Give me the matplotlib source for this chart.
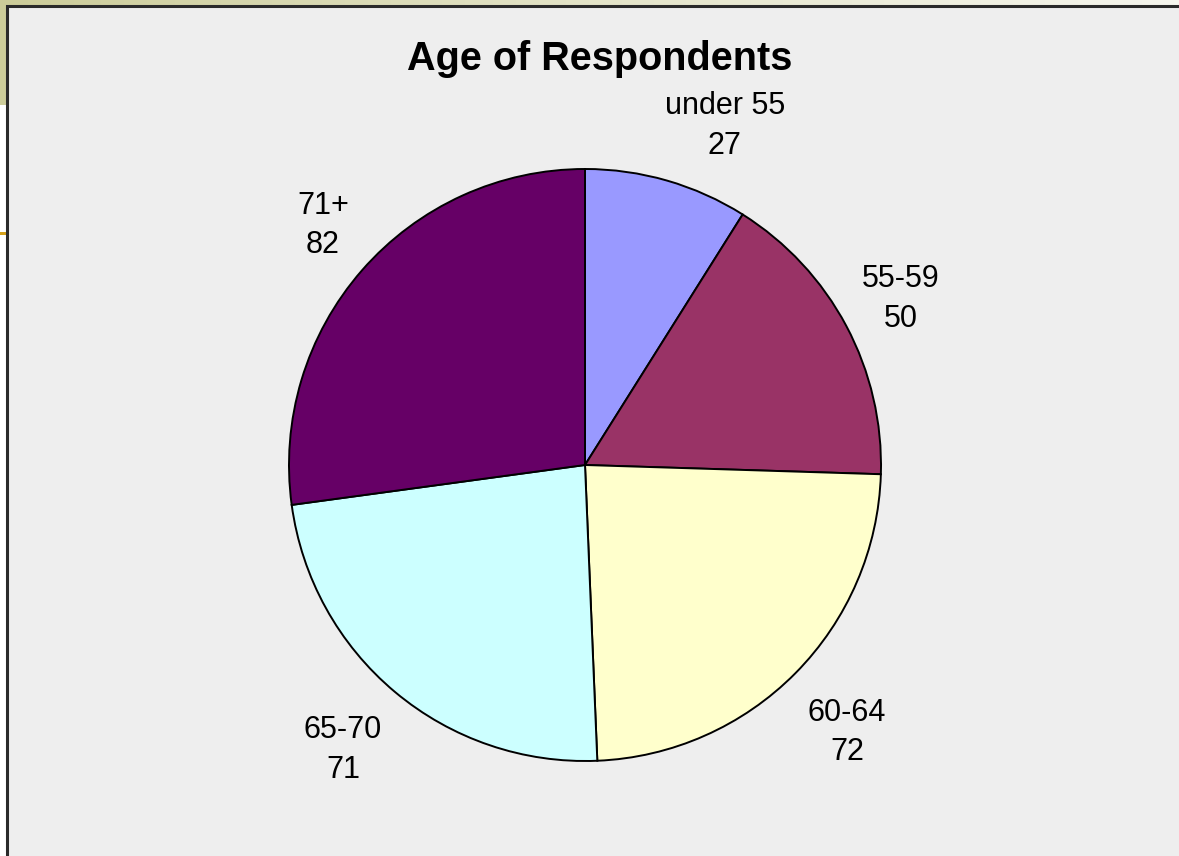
import numpy as np
import matplotlib
matplotlib.use("Agg")
import matplotlib.pyplot as plt
from matplotlib.patches import Rectangle
from matplotlib.colors import LinearSegmentedColormap

title = "Age of Respondents"
categories = ["under 55", "55-59", "60-64", "65-70", "71+"]
values = [27, 50, 72, 71, 82]
colors = ["#9999FF", "#993366", "#FFFFCC", "#CCFFFF", "#660066"]

W, H = 1179, 856
fig = plt.figure(figsize=(W / 100, H / 100), dpi=100, facecolor="white")
ax = fig.add_axes([0, 0, 1, 1])
ax.set_axis_off()

def Y(y):
    return H - y

# slide decorations
grad = np.linspace(0, 1, 256).reshape(1, -1)
cmap = LinearSegmentedColormap.from_list("k", ["#CCCC99", "#E4E4C8", "#F6F6EE"])
ax.imshow(grad, cmap=cmap, extent=[0, W, Y(7), Y(0)], aspect="auto", zorder=0)
ax.add_patch(Rectangle((0, Y(105)), 8, 105, facecolor="#CCCC99", edgecolor="none", zorder=0))
ax.add_patch(Rectangle((0, Y(235)), 8, 3, facecolor="#D4A017", edgecolor="none", zorder=0))
# chart panel
ax.add_patch(Rectangle((7, Y(H + 10)), W, H + 10 - 6, facecolor="#EEEEEE",
                       edgecolor="#2A2A2A", linewidth=2.2, zorder=1))

cx, cy, r = 585, Y(465), 296
wedges, _ = ax.pie(values, colors=colors, startangle=90, counterclock=False,
                   center=(cx, cy), radius=r,
                   wedgeprops=dict(edgecolor="black", linewidth=1.4, zorder=2))
for w in wedges:
    w.set_zorder(2)

nudge = [-6.2, 0.0, -0.7, -0.6, -1.5]
dist = [1.245, 1.209, 1.261, 1.258, 1.203]
for w, cat, v, n, d in zip(wedges, categories, values, nudge, dist):
    ang = np.deg2rad((w.theta1 + w.theta2) / 2 + n)
    ax.text(cx + d * r * np.cos(ang), cy + d * r * np.sin(ang) - 2, f"{cat}\n{v}",
            ha="center", va="center", fontsize=22, family="Liberation Sans",
            linespacing=1.4, color="black", zorder=3)

ax.text(600, Y(59), title, ha="center", va="center", fontsize=28.5,
        fontweight="bold", family="Liberation Sans", color="black", zorder=3)

ax.set_xlim(0, W)
ax.set_ylim(0, H)
ax.set_aspect("auto")
fig.savefig("out.png", dpi=100, facecolor="white")
